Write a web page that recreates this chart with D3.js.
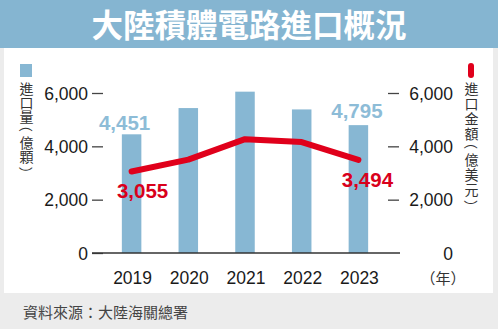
<!DOCTYPE html>
<html><head><meta charset="utf-8">
<script src="https://cdn.jsdelivr.net/npm/d3@7"></script>
<style>
html,body{margin:0;padding:0;background:#ececec;}
svg{display:block;}
</style></head>
<body>
<svg id="chart" width="498" height="329"></svg>
<script>
const years = ["2019","2020","2021","2022","2023"];
const volume = [4451, 5435, 6050, 5384, 4795];      // 進口量（億顆）
const value = [3055, 3500, 4270, 4160, 3494];       // 進口金額（億美元）
const yTicks = [0, 2000, 4000, 6000];
const volumeLabels = [{i:0, text:"4,451"}, {i:4, text:"4,795"}];
const valueLabels = [{i:0, text:"3,055"}, {i:4, text:"3,494"}];
const title = "大陸積體電路進口概況";
const leftUnit = "進口量（億顆）";
const rightUnit = "進口金額（億美元）";
const yearUnit = "（年）";
const source = "資料來源：大陸海關總署";

const svg = d3.select("#chart");
const W = 498, H = 329;
const blue = "#87b7d3", red = "#e0001b";
const numFont = "'Liberation Sans', Arial, sans-serif";
const cjkFont = "'Noto Sans CJK TC', 'Noto Sans CJK SC', sans-serif";

// backgrounds
svg.append("rect").attr("x",0).attr("y",0).attr("width",W).attr("height",H).attr("fill","#ececec");
svg.append("rect").attr("x",4).attr("y",48).attr("width",489).attr("height",245).attr("fill","#ffffff");
svg.append("rect").attr("x",0).attr("y",0).attr("width",W).attr("height",48).attr("fill","#85b5d1");
svg.append("text").attr("x",W/2).attr("y",36.5).attr("text-anchor","middle")
  .attr("font-family",cjkFont).attr("font-weight","bold").attr("font-size",31.5)
  .attr("fill","#fff").text(title);

const x = d3.scaleBand().domain(years).range([93.5, 396.5]).paddingInner(0.656).paddingOuter(0.5);
const y = d3.scaleLinear().domain([0, 6000]).range([253, 93]);

// left axis
const gl = svg.append("g").attr("transform","translate(103,0)")
  .call(d3.axisLeft(y).tickValues(yTicks).tickSize(11).tickPadding(4).tickFormat(d3.format(",")));
gl.select(".domain").remove();
gl.selectAll("text").attr("font-family",numFont).attr("font-size",17.5).attr("fill","#1a1a1a").attr("dy","0.35em");
gl.selectAll("line").attr("stroke","#444").attr("stroke-width",1.3);

// right axis
const gr = svg.append("g").attr("transform","translate(388,0)")
  .call(d3.axisRight(y).tickValues(yTicks).tickSize(11).tickPadding(8).tickFormat(d3.format(",")));
gr.select(".domain").remove();
gr.selectAll("text").attr("font-family",numFont).attr("font-size",17.5).attr("fill","#1a1a1a")
  .attr("text-anchor","end").attr("x",65).attr("dy","0.35em");
gr.selectAll("line").attr("stroke","#444").attr("stroke-width",1.3);
gr.selectAll(".tick").filter(d=>d===0).select("line").remove();

// bars
svg.append("g").selectAll("rect").data(volume).join("rect")
  .attr("x",(d,i)=>x(years[i])).attr("width",x.bandwidth())
  .attr("y",d=>y(d)).attr("height",d=>y(0)-y(d)).attr("fill",blue);

// baseline
svg.append("line").attr("x1",92).attr("x2",400).attr("y1",y(0)).attr("y2",y(0))
  .attr("stroke","#333").attr("stroke-width",1.5);

// line
const line = d3.line().x((d,i)=>x(years[i])+x.bandwidth()/2).y(d=>y(d));
svg.append("path").datum(value).attr("d",line).attr("fill","none")
  .attr("stroke",red).attr("stroke-width",6).attr("stroke-linecap","round").attr("stroke-linejoin","round");

// value labels
const volOff = [[-7,-4],[-1.5,-7]];
svg.append("g").selectAll("text").data(volumeLabels).join("text")
  .attr("x",(d,k)=>x(years[d.i])+x.bandwidth()/2+volOff[k][0])
  .attr("y",(d,k)=>y(volume[d.i])+volOff[k][1])
  .attr("text-anchor","middle").attr("font-family",numFont).attr("font-weight","bold")
  .attr("font-size",20.5).attr("fill","#8dbcd7").text(d=>d.text);
const valOff = [[11,26],[9,27]];
svg.append("g").selectAll("text").data(valueLabels).join("text")
  .attr("x",(d,k)=>x(years[d.i])+x.bandwidth()/2+valOff[k][0])
  .attr("y",(d,k)=>y(value[d.i])+valOff[k][1])
  .attr("text-anchor","middle").attr("font-family",numFont).attr("font-weight","bold")
  .attr("font-size",20.5).attr("fill","#d9001b").text(d=>d.text);

// x labels
svg.append("g").selectAll("text").data(years).join("text")
  .attr("x",d=>x(d)+x.bandwidth()/2+1).attr("y",284)
  .attr("text-anchor","middle").attr("font-family",numFont).attr("font-size",17.5)
  .attr("fill","#1a1a1a").text(d=>d);
svg.append("text").attr("x",443).attr("y",284).attr("text-anchor","middle")
  .attr("font-family",cjkFont).attr("font-size",15).attr("fill","#333").text(yearUnit);

// legends
svg.append("rect").attr("x",20).attr("y",64).attr("width",12).attr("height",13).attr("fill",blue);
svg.append("rect").attr("x",468).attr("y",63).attr("width",6).attr("height",15).attr("rx",3).attr("fill",red);

// vertical unit labels: one text element, one tspan per character
function verticalText(str, cx, top, pitch, parenPitch){
  const fs = 14;
  const t = svg.append("text").attr("font-family",cjkFont).attr("font-size",fs).attr("fill","#333");
  let yy = top;
  for (const ch of str){
    const isOpen = ch === "（", isClose = ch === "）";
    const adv = (isOpen || isClose) ? parenPitch : pitch;
    const cy = yy + adv/2;
    const ts = t.append("tspan").text(ch);
    if (isOpen || isClose){
      const target = isOpen ? cy - 1.7 : cy + 1.7;
      const inkDx = isOpen ? 0.70*fs : 0.30*fs;
      ts.attr("x", cx - 0.38*fs).attr("y", target - inkDx).attr("rotate", 90);
    } else {
      ts.attr("x", cx - fs/2).attr("y", cy + 0.38*fs);
    }
    yy += adv;
  }
}
verticalText(leftUnit, 26.5, 81.5, 14.2, 11);
verticalText(rightUnit, 471.5, 81.5, 15, 10.5);

// source
svg.append("text").attr("x",23).attr("y",318).attr("font-family",cjkFont).attr("font-size",15)
  .attr("fill","#444").text(source);
</script>
</body></html>
